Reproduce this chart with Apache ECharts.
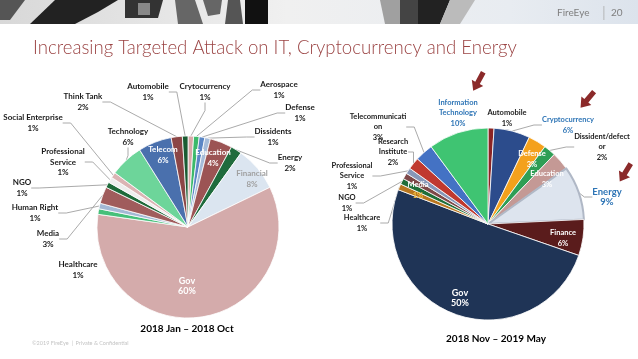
<!DOCTYPE html>
<html><head><meta charset="utf-8">
<script src="https://cdn.jsdelivr.net/npm/echarts@6/dist/echarts.min.js"></script>
<style>html,body{margin:0;padding:0;background:#fff;}#c{width:638px;height:359px;}</style>
</head><body><div id="c"></div>
<script>
// ---------- DATA ----------
var leftNames = ['Crytocurrency','Aerospace','Defense','Dissidents','Education','Energy','Financial','Gov','Healthcare','Human Right','Media','NGO','Professional Service','Social Enterprise','Technology','Telecom','Think Tank','Automobile'];
var leftValues = [1,1,1,1,4,2,8,60,1,1,3,1,1,1,6,6,2,1];
var leftLabelText = ['Crytocurrency','Aerospace','Defense','Dissidents','Education','Energy','Financial','Gov','Healthcare','Human Right','Media','NGO','Professional\nService','Social Enterprise','Technology','Telecom','Think Tank','Automobile'];

var rightNames = ['Automobile','Cryptocurrency','Defense','Dissident/defector','Education','Energy','Finance','Gov','Healthcare','NGO','Media','Professional Service','Research Institute','Telecommunication','Information Technology'];
var rightValues = [1,6,3,2,3,9,6,50,1,1,1,1,2,3,10];
var rightLabelText = ['Automobile','Cryptocurrency','Defense','Dissident/defect\nor','Education','Energy','Finance','Gov','Healthcare','NGO','Media','Professional\nService','Research\nInstitute','Telecommunicati\non','Information\nTechnology'];

var titleText = 'Increasing Targeted Attack on IT, Cryptocurrency and Energy';
var leftCaption = '2018 Jan \u2013 2018 Oct';
var rightCaption = '2018 Nov \u2013 2019 May';

// ---------- STYLE ----------
var FONT = 'Lato, "Open Sans", sans-serif';
var leftColors = ['#d9a9a9','#3cb96a','#5b86c5','#a6bcd9','#9c5454','#1f6b3d','#dbe5f0','#d4abab','#45c07a','#a3b9d5','#a05c5c','#1e6a3a','#eeeeee','#dbb4b4','#6dd59a','#4a70ad','#8c4646','#1a5c32'];
var rightColors = ['#8b2424','#2c4c8c','#f4a11c','#2f9e55','#c49995','#dde4ee','#5a1c1c','#1f3456','#b8761e','#1f6e38','#7d4848','#8797b8','#c0392f','#4472c4','#3fc472'];

// label placement (layout only)
var leftLabelPos = {
  'Crytocurrency':[205,92],'Aerospace':[279,90],'Defense':[300,113],'Dissidents':[273,137],
  'Education':[213,158],'Energy':[290,163],'Financial':[252,179],'Gov':[187,286],
  'Healthcare':[78,270],'Human Right':[35,213],'Media':[48,239],'NGO':[22,188],
  'Professional Service':[63,162],'Social Enterprise':[33,123],'Technology':[128,137],
  'Telecom':[163,155],'Think Tank':[83,102],'Automobile':[148,92]
};
var leftInside = {'Education':'#fff','Telecom':'#fff','Financial':'#a0a0a0','Gov':'#fff'};
var leftNoLine = {'Healthcare':1};

var rightLabelPos = {
  'Automobile':[507,118],'Cryptocurrency':[568,125],'Defense':[532,159],'Dissident/defector':[602,147],
  'Education':[547,179],'Energy':[607,197],'Finance':[563,238],'Gov':[460,298],
  'Healthcare':[362,223],'NGO':[347,203],'Media':[418,190],'Professional Service':[352,176],
  'Research Institute':[393,152],'Telecommunication':[378,127],'Information Technology':[458,113]
};
var rightInside = {'Defense':'#fff','Education':'#fff','Finance':'#fff','Gov':'#fff','Media':'#fff'};
var rightBlue = {'Cryptocurrency':1,'Energy':1,'Information Technology':1};
var rightNoLine = {'Automobile':1,'Information Technology':1};

function buildLeft(){
  return leftNames.map(function(n,i){
    var inside = leftInside[n];
    var d = {name:n, value:leftValues[i], itemStyle:{color:leftColors[i]},
      label:{formatter: leftLabelText[i] + '\n' + leftValues[i] + '%', color: inside || '#1a1a1a',
        fontSize: n==='Gov'?9:8, position: inside?'inside':'outside'},
      labelLine:{show: !inside && !leftNoLine[n]}};
    return d;
  });
}
function buildRight(){
  return rightNames.map(function(n,i){
    var inside = rightInside[n];
    var col = inside || (rightBlue[n] ? '#2e75b6' : '#1a1a1a');
    var d = {name:n, value:rightValues[i], itemStyle:{color:rightColors[i]},
      label:{formatter: rightLabelText[i] + '\n' + rightValues[i] + '%', color: col,
        fontSize: n==='Energy'?9.5:(n==='Gov'?9:7.5), position: inside?'inside':'outside'},
      labelLine:{show: !inside && !rightNoLine[n]}};
    if (n==='Energy') d.itemStyle.borderColor = '#b0b8c6', d.itemStyle.borderWidth = 2;
    if (n==='Media') d.label.formatter = '{a|Media}\n{b|' + rightValues[i] + '%}';
    return d;
  });
}

function arrow(x, y, rot){
  return {type:'polygon', x:x, y:y, rotation:rot,
    shape:{points:[[-2.6,-11],[2.6,-11],[2.6,1],[6.5,1],[0,10],[-6.5,1],[-2.6,1]]},
    style:{fill:'#8b2a2a'}};
}

var chart = echarts.init(document.getElementById('c'), null, {renderer:'canvas'});
var banner = [
  {type:'rect', shape:{x:0,y:0,width:638,height:24}, style:{fill:new echarts.graphic.LinearGradient(0,0,1,0,[{offset:0,color:'#d8d8d8'},{offset:0.45,color:'#f0f0f0'},{offset:0.8,color:'#e8ecf1'},{offset:1,color:'#dce3ec'}])}},
  {type:'polygon', shape:{points:[[0,0],[25,0],[10,20],[0,20]]}, style:{fill:'#555'}},
  {type:'polygon', shape:{points:[[30,24],[55,0],[118,0],[98,12],[75,24]]}, style:{fill:'#222'}},
  {type:'polygon', shape:{points:[[125,0],[163,0],[158,18],[125,18]]}, style:{fill:'#333'}},
  {type:'polygon', shape:{points:[[138,3],[150,3],[150,15],[138,15]]}, style:{fill:'#888'}},
  {type:'polygon', shape:{points:[[175,0],[195,0],[203,24],[178,24]]}, style:{fill:'#666'}},
  {type:'polygon', shape:{points:[[203,0],[222,0],[220,14],[208,16]]}, style:{fill:'#666'}},
  {type:'polygon', shape:{points:[[228,0],[240,0],[243,24],[225,24]]}, style:{fill:'#555'}},
  {type:'rect', shape:{x:245,y:0,width:23,height:24}, style:{fill:'#111'}},
  {type:'polygon', shape:{points:[[380,0],[405,0],[405,24],[385,24]]}, style:{fill:'#a0a0a0'}},
  {type:'polygon', shape:{points:[[400,0],[418,0],[418,24],[400,24]]}, style:{fill:'#444'}},
  {type:'polygon', shape:{points:[[418,0],[450,0],[440,24],[418,24]]}, style:{fill:'#222'}},
  {type:'polygon', shape:{points:[[450,0],[475,0],[460,24],[440,24]]}, style:{fill:'#bbb'}},
  {type:'text', x:557, y:13, style:{text:'FireEye', fill:'#7f7f7f', font:'10px '+FONT, verticalAlign:'middle'}},
  {type:'rect', shape:{x:603.5,y:6,width:0.8,height:14}, style:{fill:'#aaa'}},
  {type:'text', x:611, y:13, style:{text:'20', fill:'#7f7f7f', font:'10px '+FONT, verticalAlign:'middle'}},
  {type:'text', x:33, y:48, style:{text:titleText, fill:'#9b4444', font:'300 18.6px '+FONT, verticalAlign:'middle'}},
  {type:'text', x:187, y:329, style:{text:leftCaption, fill:'#000', font:'bold 10px '+FONT, align:'center', verticalAlign:'middle'}},
  {type:'text', x:496, y:339, style:{text:rightCaption, fill:'#000', font:'bold 10px '+FONT, align:'center', verticalAlign:'middle'}},
  {type:'text', x:32, y:343, style:{text:'\u00a92019 FireEye  |  Private & Confidential', fill:'#c4c4c4', font:'5.5px '+FONT, verticalAlign:'middle'}},
  arrow(478, 82, -0.5),
  arrow(587, 100, -0.7),
  arrow(625, 173, -0.55)
];

chart.setOption({
  animation:false,
  backgroundColor:'#fff',
  graphic: banner,
  series:[
    {type:'pie', center:[188,227], radius:91, startAngle:90, clockwise:true, avoidLabelOverlap:false,
      itemStyle:{borderColor:'#fff', borderWidth:0.8},
      label:{fontFamily:FONT, fontWeight:'bold', lineHeight:10.5},
      labelLine:{lineStyle:{color:'#a0a0a0', width:0.9}, length:8, length2:8},
      labelLayout:function(p){ var pos = leftLabelPos[leftNames[p.dataIndex]]; return {x:pos[0], y:pos[1], align:'center', verticalAlign:'middle'}; },
      data: buildLeft()},
    {type:'pie', center:[488,224], radius:96, startAngle:90, clockwise:true, avoidLabelOverlap:false,
      itemStyle:{borderColor:'#fff', borderWidth:0.8},
      label:{fontFamily:FONT, fontWeight:'bold', lineHeight:10.5,
        rich:{a:{color:'#fff', fontSize:7.5, fontWeight:'bold', fontFamily:FONT}, b:{color:'#f5c040', fontSize:7.5, fontWeight:'bold', fontFamily:FONT}}},
      labelLine:{lineStyle:{color:'#a0a0a0', width:0.9}, length:8, length2:8},
      labelLayout:function(p){ var pos = rightLabelPos[rightNames[p.dataIndex]]; return {x:pos[0], y:pos[1], align:'center', verticalAlign:'middle'}; },
      data: buildRight()}
  ]
});
</script></body></html>
